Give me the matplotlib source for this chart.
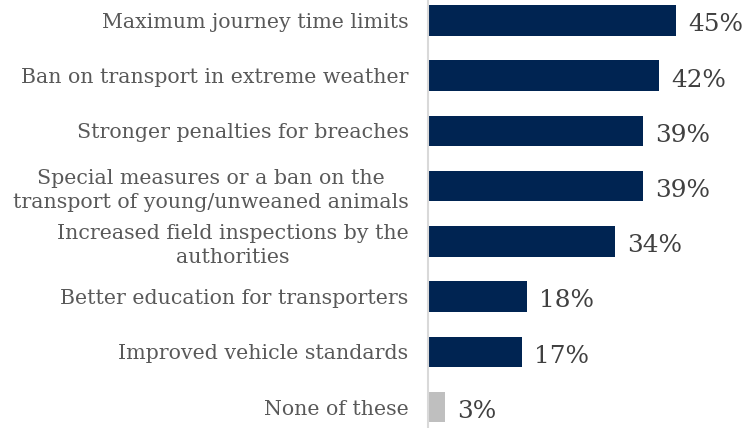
import matplotlib.pyplot as plt

categories = [
    "Maximum journey time limits",
    "Ban on transport in extreme weather",
    "Stronger penalties for breaches",
    "Special measures or a ban on the\ntransport of young/unweaned animals",
    "Increased field inspections by the\nauthorities",
    "Better education for transporters",
    "Improved vehicle standards",
    "None of these",
]
values = [45, 42, 39, 39, 34, 18, 17, 3]
colors = ["#002452"] * 7 + ["#bfbfbf"]

plt.rcParams['font.family'] = ['DejaVu Serif']

fig = plt.figure(figsize=(7.47, 4.28), dpi=100)
ax = fig.add_axes([0.573, 0.0, 0.427, 1.0])

y = list(range(len(categories)))
ax.barh(y, values, height=0.55, color=colors)
ax.set_ylim(len(categories) - 0.62, -0.37)
ax.set_xlim(0, 57.9)

ax.set_yticks(y)
ax.set_yticklabels(categories, fontsize=14.8, color="#595959", ha="right",
                   multialignment="center", linespacing=1.3)
ax.tick_params(axis="y", length=0, pad=14)
ax.set_xticks([])

for s in ["top", "right", "bottom"]:
    ax.spines[s].set_visible(False)
ax.spines["left"].set_color("#d9d9d9")
ax.spines["left"].set_linewidth(1.5)

for yi, v in zip(y, values):
    ax.text(v + 2.2, yi + 0.08, f"{v}%", va="center", ha="left",
            fontsize=17.8, color="#404040")

fig.savefig("out.png", dpi=100)
